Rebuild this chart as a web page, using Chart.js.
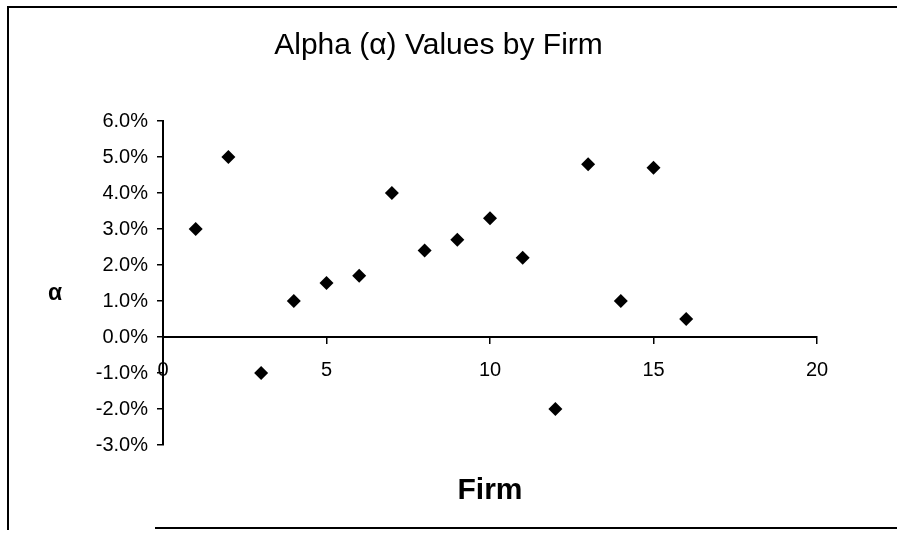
<!DOCTYPE html>
<html>
<head>
<meta charset="utf-8">
<script src="https://cdn.jsdelivr.net/npm/chart.js@4"></script>
<style>
  body { margin: 0; background: #fff; }
  canvas { display: block; }
</style>
</head>
<body>
<canvas id="alphaChart" width="897" height="538"></canvas>
<script>
// firm number and alpha (in percent)
const firms = [1, 2, 3, 4, 5, 6, 7, 8, 9, 10, 11, 12, 13, 14, 15, 16];
const alphas = [3.0, 5.0, -1.0, 1.0, 1.5, 1.7, 4.0, 2.4, 2.7, 3.3, 2.2, -2.0, 4.8, 1.0, 4.7, 0.5];
const chartTitle = "Alpha (\u03b1) Values by Firm";
const xAxisTitle = "Firm";
const yAxisTitle = "\u03b1";

const points = firms.map((f, i) => ({ x: f, y: alphas[i] }));

Chart.defaults.color = "#000";
Chart.defaults.font.family = "'Liberation Sans', Arial, sans-serif";

// frame around the chart, the upright alpha label and the "Firm" caption
const extras = {
    id: "extras",
    afterDraw(chart) {
        const ctx = chart.ctx;
        const area = chart.chartArea;
        ctx.save();
        ctx.strokeStyle = "#000";
        ctx.lineWidth = 2;
        ctx.beginPath();
        ctx.moveTo(8, 530);
        ctx.lineTo(8, 7);
        ctx.lineTo(897, 7);
        ctx.moveTo(155, 528);
        ctx.lineTo(897, 528);
        ctx.stroke();

        ctx.fillStyle = "#000";
        ctx.textAlign = "center";
        ctx.textBaseline = "middle";
        ctx.font = "bold 23px 'Liberation Sans', Arial, sans-serif";
        ctx.fillText(yAxisTitle, area.left - 108, (area.top + area.bottom) / 2 + 11);
        ctx.font = "bold 30px 'Liberation Sans', Arial, sans-serif";
        ctx.fillText(xAxisTitle, (area.left + area.right) / 2, area.bottom + 46);
        ctx.restore();
    }
};

new Chart(document.getElementById("alphaChart").getContext("2d"), {
    type: "scatter",
    data: {
        datasets: [{
            label: "Alpha",
            data: points,
            pointStyle: "rectRot",
            pointRadius: 7,
            pointHoverRadius: 7,
            backgroundColor: "#000",
            borderColor: "#000",
            borderWidth: 0
        }]
    },
    options: {
        responsive: false,
        animation: false,
        layout: { padding: { left: 0, right: 20, top: 0, bottom: 93 } },
        plugins: {
            legend: { display: false },
            tooltip: { enabled: false },
            title: {
                display: true,
                text: chartTitle,
                font: { size: 30, weight: "normal" },
                padding: { top: 28, bottom: 57 }
            }
        },
        scales: {
            x: {
                type: "linear",
                position: { y: 0 },
                min: 0,
                max: 20,
                ticks: { stepSize: 5, font: { size: 20 }, padding: 15 },
                grid: { drawOnChartArea: false, color: "#000", tickLength: 6, lineWidth: 1.5 },
                border: { color: "#000", width: 2 }
            },
            y: {
                min: -3,
                max: 6,
                ticks: {
                    stepSize: 1,
                    font: { size: 20 },
                    padding: 9,
                    callback: v => v.toFixed(1) + "%"
                },
                grid: { drawOnChartArea: false, color: "#000", tickLength: 6, lineWidth: 1.5 },
                border: { color: "#000", width: 2 },
                afterFit(scale) { scale.width = 163; }
            },
            // empty right-hand axis that only reserves the gap after x = 20
            yRight: {
                position: "right",
                ticks: { display: false },
                grid: { display: false },
                border: { display: false },
                afterFit(scale) { scale.width = 60; }
            }
        }
    },
    plugins: [extras]
});
</script>
</body>
</html>
